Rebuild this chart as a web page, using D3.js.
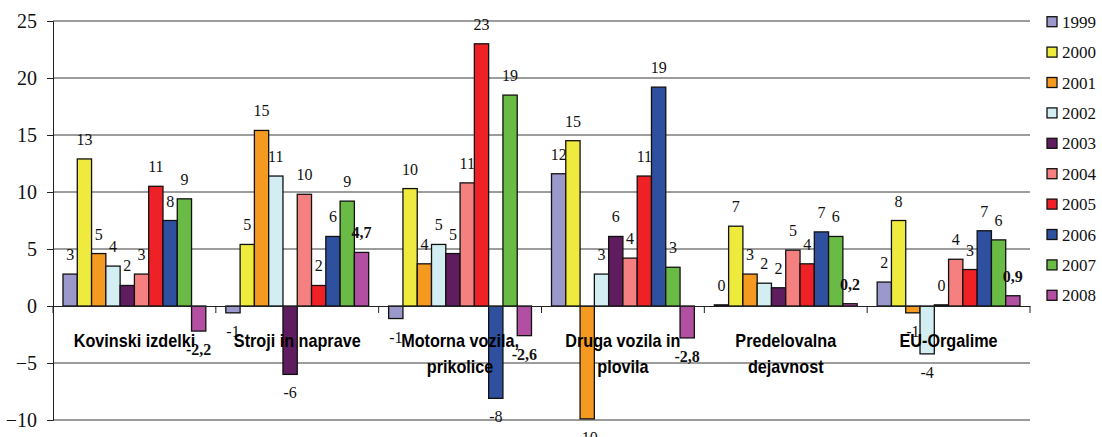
<!DOCTYPE html>
<html>
<head>
<meta charset="utf-8">
<script src="https://cdn.jsdelivr.net/npm/d3@7"></script>
<style>
  body { margin: 0; background: #fff; }
  svg { display: block; }
  .serif { font-family: 'Liberation Serif', 'DejaVu Serif', serif; }
  .sans { font-family: 'Liberation Sans', Arial, sans-serif; font-weight: bold; }
</style>
</head>
<body>
<svg id="chart" width="1102" height="437"></svg>
<script>
// Categories (x axis groups)
const categories = ['Kovinski izdelki', 'Stroji in naprave', 'Motorna vozila, prikolice',
                    'Druga vozila in plovila', 'Predelovalna dejavnost', 'EU-Orgalime'];

// Series (one per year), values per category
const years = ['1999', '2000', '2001', '2002', '2003', '2004', '2005', '2006', '2007', '2008'];
const v1999 = [2.8, -0.6, -1.1, 11.6, 0.1, 2.1];
const v2000 = [12.9, 5.4, 10.3, 14.5, 7.0, 7.5];
const v2001 = [4.6, 15.4, 3.7, -9.9, 2.8, -0.6];
const v2002 = [3.5, 11.4, 5.4, 2.8, 2.0, -4.2];
const v2003 = [1.8, -6.0, 4.6, 6.1, 1.6, 0.1];
const v2004 = [2.8, 9.8, 10.8, 4.2, 4.9, 4.1];
const v2005 = [10.5, 1.8, 23.0, 11.4, 3.7, 3.2];
const v2006 = [7.5, 6.1, -8.1, 19.2, 6.5, 6.6];
const v2007 = [9.4, 9.2, 18.5, 3.4, 6.1, 5.8];
const v2008 = [-2.2, 4.7, -2.6, -2.8, 0.2, 0.9];

// y axis ticks
const yTicks = [-10, -5, 0, 5, 10, 15, 20, 25];

const colors = ['#9b98cb', '#efea3e', '#f59a21', '#d2eef2', '#5f1d5f',
                '#f58080', '#ee2226', '#2f4f9f', '#6aba46', '#b24fa2'];

const seriesValues = [v1999, v2000, v2001, v2002, v2003, v2004, v2005, v2006, v2007, v2008];
const series = years.map((y, i) => ({ year: y, values: seriesValues[i], color: colors[i] }));

const svg = d3.select('#chart');

const plotLeft = 53, plotRight = 1030, plotTop = 21, plotBottom = 420;

const x0 = d3.scaleBand().domain(categories).range([plotLeft, plotRight]).padding(0);
const x1 = d3.scaleBand().domain(years).range([10, x0.bandwidth() - 10]).padding(0);
const y = d3.scaleLinear().domain([-10, 25]).range([plotBottom, plotTop]);

// gridlines
svg.append('g')
  .selectAll('line')
  .data(yTicks.filter(t => t !== 0))
  .enter().append('line')
    .attr('x1', plotLeft).attr('x2', plotRight)
    .attr('y1', d => y(d)).attr('y2', d => y(d))
    .attr('stroke', '#3a3a3a')
    .attr('stroke-width', 1);

// y axis
const yAxis = svg.append('g')
  .attr('transform', 'translate(' + plotLeft + ',0)')
  .call(d3.axisLeft(y).tickValues(yTicks).tickSize(6).tickPadding(10));
yAxis.attr('font-family', null).attr('font-size', null);
yAxis.select('.domain').attr('stroke', '#222');
yAxis.selectAll('.tick line').attr('stroke', '#222');
yAxis.selectAll('text')
  .attr('class', 'serif')
  .attr('font-size', 20)
  .attr('fill', '#111');

// bars
const groups = svg.append('g')
  .selectAll('g')
  .data(series)
  .enter().append('g')
    .attr('fill', d => d.color);

groups.selectAll('rect')
  .data(s => s.values.map((v, i) => ({ year: s.year, cat: categories[i], value: v })))
  .enter().append('rect')
    .attr('x', d => x0(d.cat) + x1(d.year))
    .attr('width', x1.bandwidth())
    .attr('y', d => y(Math.max(0, d.value)))
    .attr('height', d => Math.abs(y(d.value) - y(0)))
    .attr('stroke', '#111')
    .attr('stroke-width', 1.3);

// x axis (line at zero with category ticks)
const xAxis = svg.append('g')
  .attr('transform', 'translate(0,' + y(0) + ')')
  .call(d3.axisBottom(x0).tickValues([]).tickSizeOuter(0));
xAxis.select('.domain').attr('stroke', '#222');
xAxis.selectAll('.sep')
  .data(d3.range(categories.length + 1))
  .enter().append('line')
    .attr('x1', i => plotLeft + i * x0.bandwidth())
    .attr('x2', i => plotLeft + i * x0.bandwidth())
    .attr('y1', 0).attr('y2', 7)
    .attr('stroke', '#222');

// data labels
const fmt = (v, year) => year === '2008'
  ? v.toFixed(1).replace('.', ',')
  : String(Math.round(v));

groups.selectAll('text')
  .data(s => s.values.map((v, i) => ({ year: s.year, cat: categories[i], value: v })))
  .enter().append('text')
    .attr('class', 'serif')
    .attr('x', d => x0(d.cat) + x1(d.year) + x1.bandwidth() / 2)
    .attr('y', d => d.value >= 0 ? y(d.value) - 14 : y(d.value) + 24)
    .attr('text-anchor', 'middle')
    .attr('fill', '#111')
    .attr('font-size', 16)
    .attr('font-weight', d => d.year === '2008' ? 'bold' : 'normal')
    .text(d => fmt(d.value, d.year));

// category labels, wrapped to the band width, drawn on top
const catG = svg.append('g');
const sx = 0.9;
categories.forEach(c => {
  const cx = x0(c) + x0.bandwidth() / 2;
  const words = c.split(' ');
  const lines = [];
  let line = [];
  const probe = catG.append('text').attr('class', 'sans').attr('font-size', 18);
  words.forEach(w => {
    const test = line.concat(w).join(' ');
    probe.text(test);
    if (probe.node().getComputedTextLength() * sx > 145 && line.length) {
      lines.push(line.join(' '));
      line = [w];
    } else {
      line.push(w);
    }
  });
  lines.push(line.join(' '));
  probe.remove();
  lines.forEach((l, k) => {
    catG.append('text')
      .attr('class', 'sans')
      .attr('transform', 'translate(' + cx + ',' + (y(0) + 41 + k * 26) + ') scale(' + sx + ',1)')
      .attr('text-anchor', 'middle')
      .attr('fill', '#000')
      .attr('font-size', 18)
      .text(l);
  });
});

// legend
const legend = svg.append('g')
  .selectAll('g')
  .data(series)
  .enter().append('g')
    .attr('transform', (d, i) => 'translate(1047,' + (21.7 + i * 30.4) + ')');
legend.append('rect')
  .attr('x', 0).attr('y', -5)
  .attr('width', 10).attr('height', 10)
  .attr('fill', d => d.color)
  .attr('stroke', '#111')
  .attr('stroke-width', 1.3);
legend.append('text')
  .attr('class', 'serif')
  .attr('x', 15).attr('y', 6)
  .attr('fill', '#111')
  .attr('font-size', 17)
  .text(d => d.year);
</script>
</body>
</html>
